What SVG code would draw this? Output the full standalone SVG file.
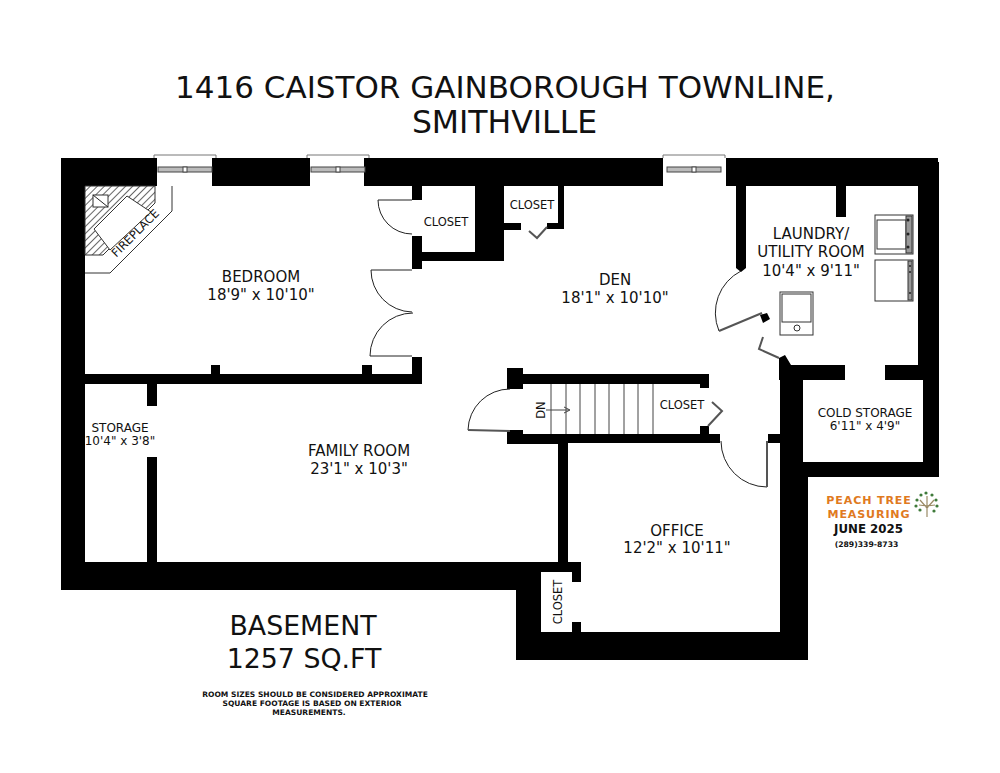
<svg xmlns="http://www.w3.org/2000/svg" width="1000" height="773" viewBox="0 0 1000 773">
<style>
text{font-family:"DejaVu Sans","Liberation Sans",sans-serif;fill:#111;text-anchor:middle}
.r{font-size:15px}.s{font-size:12px}.c{font-size:11.5px}
.b{font-weight:bold}
.n{font-size:7.55px;font-weight:bold}
.l{font-size:11.1px;letter-spacing:.85px;font-weight:bold;fill:#e07a1f}
.d{fill:none;stroke:#222;stroke-width:1}
.g{fill:none;stroke:#555;stroke-width:2}
.t{fill:none;stroke:#444;stroke-width:1}
.a{fill:#fff;stroke:#333;stroke-width:1}
</style>
<defs>
<pattern id="hatch" width="5" height="5" patternUnits="userSpaceOnUse" patternTransform="rotate(45)">
<rect width="5" height="5" fill="#fff"/><line x1="0" y1="0" x2="0" y2="5" stroke="#333" stroke-width="1.5"/>
</pattern>
<g id="win">
<path fill="none" stroke="#777" d="M-4 0V-3H58V0"/>
<rect x="0" y="9" width="54" height="5" fill="#bbb" stroke="#444"/>
<rect x="25" y="9" width="4" height="5" fill="#fff" stroke="#444"/>
</g>
</defs>
<rect width="1000" height="773" fill="#fff"/>
<g id="title">
<text x="505" y="98" font-size="31">1416 CAISTOR GAINBOROUGH TOWNLINE,</text>
<text x="504.5" y="133" font-size="31.5">SMITHVILLE</text>
</g>
<g id="walls" fill="#000">
<path d="M61 158H157V186H85V590H61Z"/>
<path d="M85 562H541V590H85Z"/>
<path d="M516 562H541V632H572V622H581V660H516Z"/>
<path d="M541 562H581V582H572V572H541Z"/>
<path d="M581 632H780V660H581Z"/>
<path d="M780 477H808V660H780Z"/>
<path d="M212 158H310V186H212Z"/>
<path d="M364 158H663V186H364Z"/>
<path d="M412 186H422V200H412ZM412 236H422V252H475V186H504V261H422V269H412Z"/>
<path d="M504 223H521V230H504ZM547 223H558V186H564V229H547Z"/>
<path d="M726 158H938V162H939V477H803V462H923V380H885V365H918V186H846V217H836V186H746V268L741 272L736 268V186H726Z"/>
<path d="M779 358L785 355L791 365H845V380H803V477H780V380H779Z"/>
<path d="M85 374H211V365H220V374H362V365H372V374H412V357H422V384H157V406H147V384H85Z"/>
<path d="M147 457H157V562H147Z"/>
<path d="M507 368H523V374H709V388H700V384H523V389H507Z"/>
<path d="M507 430H523V434H700V426H709V434H720V443H568V562H558V444H507Z"/>
<path d="M768 434H780V443H768Z"/>
<path d="M760 315L767 313L770 319L763 323Z"/>
</g>
<g id="windows">
<use href="#win" x="158" y="158"/>
<use href="#win" x="311" y="158"/>
<use href="#win" x="667" y="158"/>
</g>
<g id="fireplace">
<path class="a" d="M172 186V211L110 273H85"/>
<path d="M85 186H155V203L103 255H85Z" fill="url(#hatch)" stroke="#333"/>
<path d="M127 196L151 212L110 250L94 229Z" fill="#fff" stroke="#333"/>
<rect x="93" y="195" width="15" height="12" class="a"/>
<path class="d" d="M93 195L108 207"/>
<text transform="translate(138 236) rotate(-45)" font-size="11.5">FIREPLACE</text>
</g>
<g id="doors">
<path class="d" d="M412 200H378A34 34 0 0 0 412 234"/>
<path class="d" d="M412 270H371A42 42 0 0 0 412 312"/>
<path class="d" d="M412 356H370A43 43 0 0 1 413 313"/>
<path class="g" d="M547 227L537 238L529 231"/>
<path class="d" d="M741 271A47 47 0 0 0 719 331"/>
<path class="g" d="M719 331L762 313"/>
<path class="g" d="M763 337L759 349L779 358"/>
<path class="d" d="M510 389A42 42 0 0 0 468 430"/>
<path class="g" d="M468 430L510 431"/>
<path class="g" d="M712 402L722 411L708 426"/>
<path class="d" d="M721 441A46 46 0 0 0 767 487"/>
<path class="g" d="M767 487V441"/>
</g>
<g id="stairs">
<path class="t" d="M551 384V434M566 384V434M580 384V434M595 384V434M609 384V434M624 384V434M638 384V434M653 384V434"/>
<path class="t" d="M546 410H569M564 407L570 410L564 413"/>
<text transform="translate(545 410) rotate(-90)" font-size="11.5">DN</text>
</g>
<g id="appliances">
<rect class="a" x="875" y="215" width="38" height="39"/>
<rect class="a" x="877" y="220" width="29" height="29"/>
<rect x="906" y="216" width="6" height="37" fill="#999" stroke="#333"/>
<circle cx="908" cy="220" r="1.5" fill="#222"/><circle cx="908" cy="234" r="1.5" fill="#222"/><circle cx="908" cy="247" r="1.5" fill="#222"/>
<rect class="a" x="875" y="260" width="38" height="41"/>
<rect x="908" y="261" width="4" height="39" fill="#999" stroke="#333"/>
<circle cx="910" cy="266" r="1" fill="#222"/><circle cx="910" cy="272" r="1" fill="#222"/><circle cx="910" cy="293" r="1" fill="#222"/>
<rect class="a" x="780" y="292" width="33" height="43"/>
<rect class="a" x="782" y="294" width="29" height="28"/>
<circle class="a" cx="797" cy="328" r="3"/>
</g>
<g id="labels">
<text class="r" x="261" y="282">BEDROOM</text><text class="r" x="261" y="300">18'9" x 10'10"</text>
<text class="c" x="446" y="226">CLOSET</text>
<text class="c" x="532" y="209">CLOSET</text>
<text class="r" x="615" y="285">DEN</text><text class="r" x="615" y="303">18'1" x 10'10"</text>
<text class="r" x="811" y="239">LAUNDRY/</text><text class="r" x="811" y="257">UTILITY ROOM</text><text class="r" x="811" y="276">10'4" x 9'11"</text>
<text class="s" x="865" y="417">COLD STORAGE</text><text class="s" x="865" y="430">6'11" x 4'9"</text>
<text class="c" x="682" y="409">CLOSET</text>
<text class="r" x="359" y="456">FAMILY ROOM</text><text class="r" x="359" y="474">23'1" x 10'3"</text>
<text class="s" x="120" y="432">STORAGE</text><text class="s" x="120" y="445">10'4" x 3'8"</text>
<text class="r" x="677" y="536">OFFICE</text><text class="r" x="677" y="553">12'2" x 10'11"</text>
<text class="c" transform="translate(562 602) rotate(-90)">CLOSET</text>
</g>
<g id="logo">
<text class="l" x="869" y="504">PEACH TREE</text>
<text class="l" x="869" y="517.5">MEASURING</text>
<path d="M927 517V503M927 508L920 500M927 508L934 500M927 504L927 496M927 506L919 505M927 506L935 505" stroke="#9a8a65" stroke-width="1.2" fill="none"/>
<g fill="#3f7a3a"><circle cx="921" cy="495" r="1.6"/><circle cx="926" cy="493" r="1.6"/><circle cx="932" cy="495" r="1.6"/><circle cx="917" cy="500" r="1.6"/><circle cx="936" cy="500" r="1.6"/><circle cx="916" cy="506" r="1.6"/><circle cx="937" cy="506" r="1.6"/><circle cx="920" cy="510" r="1.6"/><circle cx="934" cy="511" r="1.6"/></g>
<text class="b" x="868.5" y="533" font-size="11.8">JUNE 2025</text>
<text class="b" x="866.5" y="547" font-size="7.7">(289)339-8733</text>
</g>
<g id="footer">
<text x="303" y="635" font-size="26.8">BASEMENT</text>
<text x="304" y="668" font-size="26.8">1257 SQ.FT</text>
<text class="n" x="315" y="697">ROOM SIZES SHOULD BE CONSIDERED APPROXIMATE</text>
<text class="n" x="312" y="706">SQUARE FOOTAGE IS BASED ON EXTERIOR</text>
<text class="n" x="309" y="715">MEASUREMENTS.</text>
</g>
</svg>
